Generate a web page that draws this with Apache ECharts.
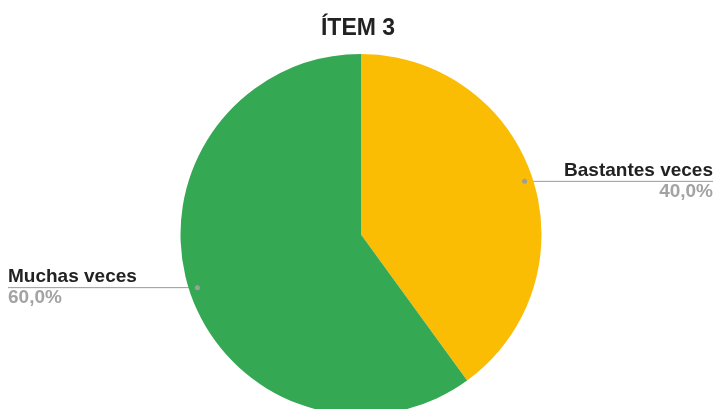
<!DOCTYPE html>
<html>
<head>
<meta charset="utf-8">
<script src="https://cdn.jsdelivr.net/npm/echarts@6/dist/echarts.min.js"></script>
<style>
  html, body { margin: 0; padding: 0; background: #fff; }
  #chart { width: 716px; height: 409px; }
</style>
</head>
<body>
<div id="chart"></div>
<script>
// Answer shares for item 3
const titleText = 'ÍTEM 3';
const categories = ['Bastantes veces', 'Muchas veces'];
const shares = [40, 60];
const colors = ['#FBBC04', '#34A853'];

const W = 716;
const CX = 361, CY = 234.5, R = 180.5;
const ANCHOR_R = 172; // where each leader line begins, just inside the rim

// Leader-line anchor at the middle angle of each slice (clockwise from 12 o'clock)
const total = shares.reduce((a, b) => a + b, 0);
let acc = 0;
const anchors = shares.map(v => {
  const mid = (acc + v / 2) / total;
  acc += v;
  const t = mid * Math.PI * 2;
  return [CX + ANCHOR_R * Math.sin(t), CY - ANCHOR_R * Math.cos(t)];
});

const fmtPct = v => (v / total * 100).toFixed(1).replace('.', ',') + '%';
const FONT = 'Liberation Sans, Arial, sans-serif';

const chart = echarts.init(document.getElementById('chart'), null, { renderer: 'canvas' });
chart.setOption({
  animation: false,
  backgroundColor: '#ffffff',
  textStyle: { fontFamily: FONT },
  title: {
    text: titleText,
    left: 'center',
    top: 12,
    textStyle: { fontSize: 23, fontWeight: 'bold', color: '#222', fontFamily: FONT }
  },
  series: [{
    type: 'pie',
    center: [CX, CY],
    radius: [0, R],
    startAngle: 90,
    clockwise: true,
    data: categories.map((c, i) => ({ name: c, value: shares[i], itemStyle: { color: colors[i] } })),
    itemStyle: { borderWidth: 0 },
    emphasis: { disabled: true },
    label: {
      show: true,
      position: 'outside',
      formatter: p => '{n|' + p.name + '}\n{p|' + fmtPct(p.value) + '}',
      rich: {
        n: { fontSize: 19, fontWeight: 'bold', color: '#222', lineHeight: 21, fontFamily: FONT },
        p: { fontSize: 19, fontWeight: 'bold', color: '#a3a3a3', lineHeight: 21, fontFamily: FONT }
      }
    },
    labelLine: { show: true, length: 0, length2: 10, smooth: false, lineStyle: { color: '#999', width: 1 } },
    labelLayout: function (p) {
      const a = anchors[p.dataIndex];
      const right = a[0] > CX;
      const ex = right ? W - 3 : 8;
      return {
        x: ex,
        y: a[1],
        align: right ? 'right' : 'left',
        verticalAlign: 'middle',
        labelLinePoints: [a.slice(), a.slice(), [ex, a[1]]]
      };
    }
  }],
  graphic: anchors.map(a => ({
    type: 'circle',
    shape: { cx: a[0], cy: a[1], r: 2.5 },
    style: { fill: '#9e9e9e' },
    z: 100
  }))
});
</script>
</body>
</html>
